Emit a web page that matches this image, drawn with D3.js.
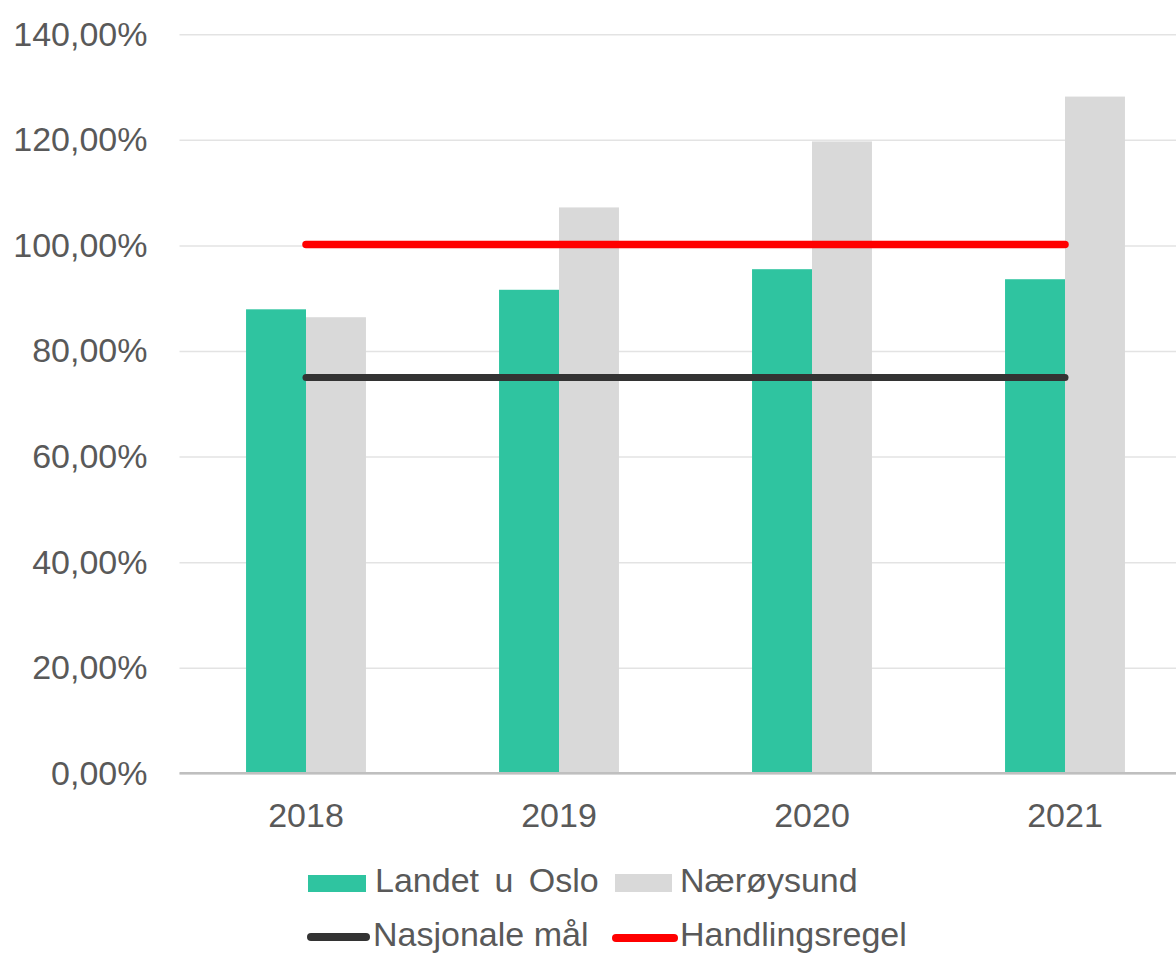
<!DOCTYPE html>
<html>
<head>
<meta charset="utf-8">
<script src="https://cdn.jsdelivr.net/npm/d3@7"></script>
<style>
	body { margin:0; background:#fff; }
	text { font-family:"Liberation Sans", Arial, sans-serif; fill:#595959; }
</style>
</head>
<body>
<div class="chart"></div>
<script>
// data
var years = ["2018", "2019", "2020", "2021"];
var landetUOslo = [87.9, 91.6, 95.5, 93.6];
var naeroysund = [86.4, 107.2, 119.7, 128.2];
var nasjonaleMal = [75, 75, 75, 75];
var handlingsregel = [100.2, 100.2, 100.2, 100.2];
var yTicks = [0, 20, 40, 60, 80, 100, 120, 140];

var W = 1176, H = 955;
var plot = {left:179.5, right:1191.5, top:34.3, bottom:773.3};

var svg = d3.select(".chart").append("svg")
	.attr("width", W)
	.attr("height", H);

var x = d3.scaleBand().domain(years).range([plot.left, plot.right]).padding(0);
var y = d3.scaleLinear().domain([0, 140]).range([plot.bottom, plot.top]);

// norwegian number format 140,00%
var no = d3.formatLocale({decimal:",", thousands:" ", grouping:[3], currency:["", " kr"]});
var fmt = no.format(".2f");

// y axis + gridlines
var yAxis = svg.append("g")
	.attr("transform", "translate(" + plot.left + ",0)")
	.call(d3.axisLeft(y).tickValues(yTicks).tickSize(-(W - plot.left)).tickPadding(32)
		.tickFormat(function(d){ return fmt(d) + "%"; }));
yAxis.select(".domain").remove();
yAxis.selectAll(".tick line").attr("stroke", "#e3e3e3").attr("stroke-width", 1.5);
yAxis.selectAll(".tick text")
	.attr("font-size", 34)
	.attr("dy", "0.32em")
	.style("font-family", "'Liberation Sans', Arial, sans-serif")
	.attr("fill", "#595959");

var bw = x.bandwidth() * 0.237;

// bars
svg.append("g").selectAll("rect")
	.data(years)
	.enter().append("rect")
	.attr("x", function(d){ return x(d) + x.bandwidth()/2 - bw; })
	.attr("y", function(d, i){ return y(landetUOslo[i]); })
	.attr("width", bw)
	.attr("height", function(d, i){ return y(0) - y(landetUOslo[i]); })
	.attr("fill", "#2fc4a0");

svg.append("g").selectAll("rect")
	.data(years)
	.enter().append("rect")
	.attr("x", function(d){ return x(d) + x.bandwidth()/2; })
	.attr("y", function(d, i){ return y(naeroysund[i]); })
	.attr("width", bw)
	.attr("height", function(d, i){ return y(0) - y(naeroysund[i]); })
	.attr("fill", "#d9d9d9");

// baseline
svg.append("line")
	.attr("x1", plot.left).attr("x2", W)
	.attr("y1", y(0)).attr("y2", y(0))
	.attr("stroke", "#bfbfbf").attr("stroke-width", 2.5);

// x axis labels
var xAxis = svg.append("g")
	.attr("transform", "translate(0," + plot.bottom + ")")
	.call(d3.axisBottom(x).tickSize(0).tickPadding(30));
xAxis.select(".domain").remove();
xAxis.selectAll(".tick text")
	.attr("font-size", 34)
	.style("font-family", "'Liberation Sans', Arial, sans-serif")
	.attr("fill", "#595959");

// lines
var line = d3.line()
	.x(function(d, i){ return x(years[i]) + x.bandwidth()/2; })
	.y(function(d){ return y(d); });

svg.append("path")
	.datum(nasjonaleMal)
	.attr("d", line)
	.attr("fill", "none")
	.attr("stroke", "#333333")
	.attr("stroke-width", 7)
	.attr("stroke-linecap", "round");

svg.append("path")
	.datum(handlingsregel)
	.attr("d", line)
	.attr("fill", "none")
	.attr("stroke", "#ff0000")
	.attr("stroke-width", 7.5)
	.attr("stroke-linecap", "round");

// legend
var legend = svg.append("g").attr("font-size", 34);

legend.append("rect").attr("x", 308).attr("y", 875).attr("width", 58).attr("height", 17).attr("fill", "#2fc4a0");
legend.append("text").attr("x", 375).attr("y", 892).style("word-spacing", "6px").text("Landet u Oslo");

legend.append("rect").attr("x", 615).attr("y", 874).attr("width", 57).attr("height", 18).attr("fill", "#d9d9d9");
legend.append("text").attr("x", 680).attr("y", 892).text("Nærøysund");

legend.append("line").attr("x1", 311).attr("x2", 366).attr("y1", 937).attr("y2", 937)
	.attr("stroke", "#333333").attr("stroke-width", 8).attr("stroke-linecap", "round");
legend.append("text").attr("x", 373).attr("y", 946).text("Nasjonale mål");

legend.append("line").attr("x1", 616).attr("x2", 674).attr("y1", 938).attr("y2", 938)
	.attr("stroke", "#ff0000").attr("stroke-width", 8).attr("stroke-linecap", "round");
legend.append("text").attr("x", 680).attr("y", 946).text("Handlingsregel");
</script>
</body>
</html>
